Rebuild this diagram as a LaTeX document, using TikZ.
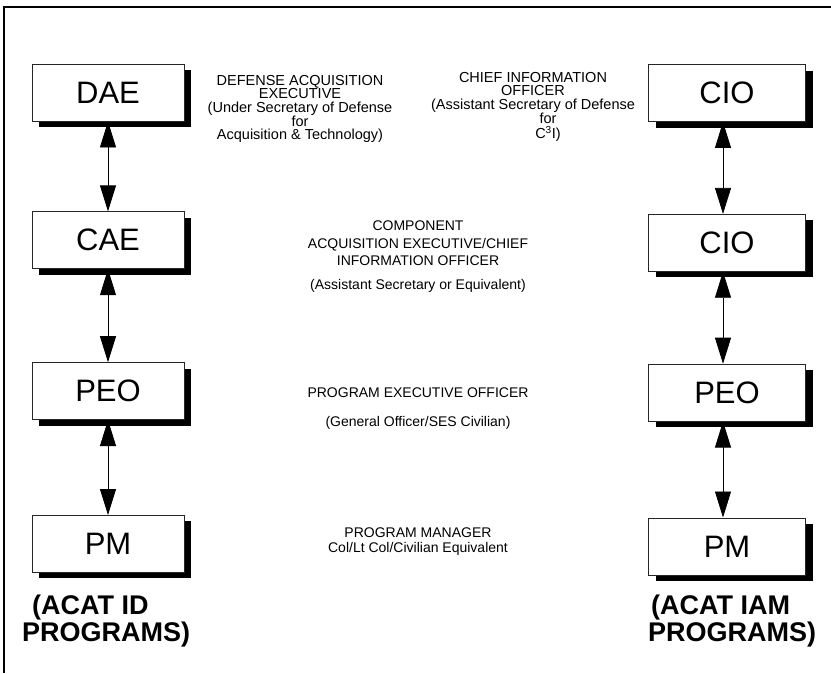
\documentclass[tikz,border=0pt]{standalone}
\usepackage{fontspec}
\setmainfont{Liberation Sans}
\usetikzlibrary{positioning}
\usetikzlibrary{shadows}
\usetikzlibrary{arrows.meta}
\tikzstyle{officebox} = [rectangle, minimum width=152pt, minimum height=57pt, text centered, draw=black!85, line width=0.8pt, fill=white, drop shadow={shadow xshift=7pt, shadow yshift=-6pt, fill=black, opacity=1}, font=\fontsize{31}{31}\selectfont]
\tikzstyle{title} = [align=center, anchor=north, inner sep=0pt, font=\fontsize{14}{15}\selectfont]
\tikzstyle{toptitle} = [title, font=\fontsize{14.5}{13.6}\selectfont]
\tikzstyle{acat} = [align=left, anchor=north west, inner sep=0pt, font=\fontsize{27}{27}\bfseries\selectfont]
\tikzstyle{link} = [{Triangle[length=26pt,width=16pt]}-{Triangle[length=26pt,width=16pt]}, line width=0.8pt]

\begin{document}
\begin{tikzpicture}[x=1pt, y=-1pt]
			\useasboundingbox (0,0) rectangle (831,673);
			\draw[line width=1.6pt] (4,673) -- (4,7) -- (831,7);
			% left column
			\node[officebox](dae) at (108,92.5){DAE};
			\node[officebox, below=90pt of dae](cae){CAE};
			\node[officebox, below=93pt of cae](peo){PEO};
			\node[officebox, below=95pt of peo](pm){PM};
			% right column
			\node[officebox, minimum width=157pt](cio) at (727,93){CIO};
			\node[officebox, minimum width=157pt, below=92pt of cio](cioc){CIO};
			\node[officebox, minimum width=157pt, below=92pt of cioc](peor){PEO};
			\node[officebox, minimum width=157pt, below=96pt of peor](pmr){PM};
			\draw[link] (dae) -- (cae);
			\draw[link] (cae) -- (peo);
			\draw[link] (peo) -- (pm);
			\draw[link] ([xshift=-4pt]cio.south) -- ([xshift=-4pt]cioc.north);
			\draw[link] ([xshift=-4pt]cioc.south) -- ([xshift=-4pt]peor.north);
			\draw[link] ([xshift=-4pt]peor.south) -- ([xshift=-4pt]pmr.north);
			% titles
			\node[toptitle](daetext) at (300,75){DEFENSE ACQUISITION\\EXECUTIVE\\(Under Secretary of Defense\\for\\Acquisition \& Technology)};
			\node[toptitle](ciotext) at (533,72){CHIEF INFORMATION\\OFFICER\\(Assistant Secretary of Defense\\\hspace*{30pt}for\\[2pt]\hspace*{30pt}C\textsuperscript{3}I)};
			\node[title](caetext) at (418,221){COMPONENT\\[2.5pt]ACQUISITION EXECUTIVE/CHIEF\\[2.5pt]INFORMATION OFFICER\\[8.5pt](Assistant Secretary or Equivalent)};
			\node[title](peotext) at (418,388){PROGRAM EXECUTIVE OFFICER\\[14pt](General Officer/SES Civilian)};
			\node[title](pmtext) at (418,528){PROGRAM MANAGER\\Col/Lt Col/Civilian Equivalent};
			\node[acat](acatid) at (22,595){\hspace*{10pt}(ACAT ID\\PROGRAMS)};
			\node[acat](acatiam) at (648,595){\hspace*{3pt}(ACAT IAM\\PROGRAMS)};
		\end{tikzpicture}
\end{document}
